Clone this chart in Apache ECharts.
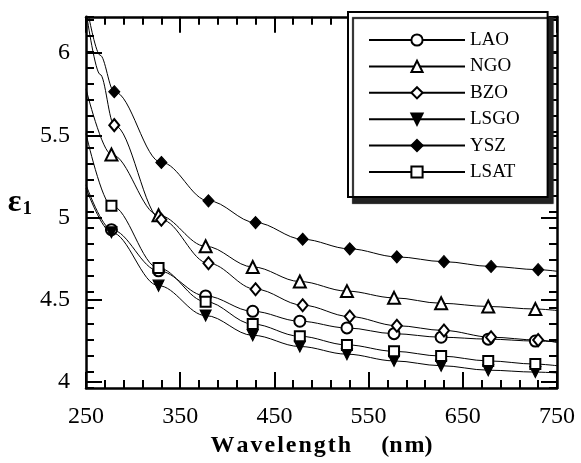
<!DOCTYPE html>
<html lang="en">
<head>
    <meta charset="utf-8">
    <title>Dielectric function of substrates</title>
    <script src="https://cdn.jsdelivr.net/npm/echarts@6/dist/echarts.min.js"></script>
    <style>* {
        margin: 0;
        padding: 0;
    }
    #chart-container {
        width: 581px;
        height: 463px;
        background: #fff;
    }</style>
</head>
<body>
    <div id="chart-container"></div>
    <script>
      // measured points (markers)
      var waveA = [277, 327, 377, 427, 477, 527, 577, 627, 677, 727];
      var waveB = [280, 330, 380, 430, 480, 530, 580, 630, 680, 730];
      var laoEps  = [4.89, 4.633, 4.476, 4.38, 4.318, 4.276, 4.24, 4.218, 4.206, 4.194];
      var ngoEps  = [5.36, 4.98, 4.786, 4.657, 4.566, 4.506, 4.464, 4.43, 4.41, 4.394];
      var bzoEps  = [5.543, 4.952, 4.68, 4.518, 4.418, 4.347, 4.29, 4.26, 4.218, 4.2];
      var lsgoEps = [4.873, 4.54, 4.353, 4.23, 4.16, 4.112, 4.07, 4.04, 4.012, 4.0];
      var yszEps  = [5.752, 5.31, 5.07, 4.934, 4.83, 4.77, 4.72, 4.69, 4.66, 4.64];
      var lsatEps = [5.04, 4.65, 4.44, 4.30, 4.224, 4.17, 4.13, 4.10, 4.07, 4.05];

      // fitted curve
      var laoFit  = [[250, 5.17], [750, 4.19]];
      var ngoFit  = [[250, 5.77], [750, 4.385]];
      var bzoFit  = [[251, 6.22], [265, 5.86], [750, 4.185]];
      var lsgoFit = [[250, 5.15], [750, 3.995]];
      var yszFit  = [[253, 6.22], [265, 5.98], [750, 4.63]];
      var lsatFit = [[250, 5.49], [750, 4.04]];

      var serif = 'Liberation Serif';
      var hs = '\u200A';   // hair space, the axis title is letter-spaced

      function buildData(waves, eps, fit) {
          var pts = waves.map(function (w, i) { return { value: [w, eps[i]] }; });
          fit.forEach(function (p) { pts.push({ value: p, symbol: 'none' }); });
          pts.sort(function (a, b) { return a.value[0] - b.value[0]; });
          return pts;
      }

      function makeSeries(name, waves, eps, fit, symbol, size) {
          return {
              name: name,
              type: 'line',
              xAxisIndex: 0,
              yAxisIndex: 0,
              data: buildData(waves, eps, fit),
              smooth: 0.35,
              smoothMonotone: 'x',
              symbol: symbol,
              symbolSize: size,
              color: '#000',
              lineStyle: { color: '#000', width: 1 },
              itemStyle: { color: '#000', borderColor: '#000', borderWidth: 1.1 },
              clip: true
          };
      }

      var tickStyle = { color: '#000', width: 2 };
      var frameLine = { show: true, lineStyle: { color: '#000', width: 2.5 } };

      var myChart = echarts.init(document.getElementById('chart-container'));
      myChart.setOption({
          animation: false,
          backgroundColor: '#fff',
          grid: [
              { left: 86, right: 24, top: 16.8, bottom: 64.5 },
              // overlay grid used only for the long ticks at every 0.5
              { left: 86, right: 24, top: 53, bottom: 81 }
          ],
          legend: {
              orient: 'vertical',
              left: 348,
              top: 12,
              padding: [18, 28, 15, 20],
              itemWidth: 96,
              itemHeight: 14,
              itemGap: 6.4,
              backgroundColor: '#fff',
              borderColor: '#000',
              borderWidth: 2,
              shadowColor: '#222',
              shadowBlur: 1,
              shadowOffsetX: 5,
              shadowOffsetY: 6,
              textStyle: { fontFamily: serif, fontSize: 19, color: '#000', lineHeight: 20 },
              data: ['LAO', 'NGO', 'BZO', 'LSGO', 'YSZ', 'LSAT']
          },
          xAxis: [
              {
                  gridIndex: 0, type: 'value', position: 'bottom',
                  min: 250, max: 750, interval: 100,
                  axisLine: frameLine,
                  axisTick: { inside: true, length: 16, lineStyle: tickStyle },
                  minorTick: { show: true, splitNumber: 5, length: 8, lineStyle: tickStyle },
                  splitLine: { show: false },
                  axisLabel: { fontFamily: serif, fontSize: 24, color: '#000', margin: 17 },
                  name: 'Wavelength'.split('').join(hs) + '     (' + 'nm'.split('').join(hs) + ')',
                  nameLocation: 'middle',
                  nameGap: 39,
                  nameTextStyle: { fontFamily: serif, fontWeight: 'bold', fontSize: 24, color: '#000' }
              },
              {
                  gridIndex: 0, type: 'value', position: 'top',
                  min: 250, max: 750, interval: 100,
                  axisLine: frameLine,
                  axisTick: { inside: true, length: 16, lineStyle: tickStyle },
                  minorTick: { show: true, splitNumber: 5, length: 8, lineStyle: tickStyle },
                  splitLine: { show: false },
                  axisLabel: { show: false }
              },
              { gridIndex: 1, type: 'value', min: 250, max: 750, show: false }
          ],
          yAxis: [
              {
                  gridIndex: 0, type: 'value', position: 'left',
                  min: 3.9, max: 6.22, interval: 0.1,
                  axisLine: frameLine,
                  axisTick: { inside: true, length: 8, lineStyle: tickStyle },
                  splitLine: { show: false },
                  axisLabel: { show: false },
                  name: '{e|ε}{s|1}',
                  nameLocation: 'middle',
                  nameRotate: 0,
                  nameGap: 54,
                  nameTextStyle: {
                      rich: {
                          e: { fontFamily: serif, fontWeight: 'bold', fontSize: 32, color: '#000' },
                          s: { fontFamily: serif, fontWeight: 'bold', fontSize: 19, color: '#000', padding: [14, 0, 0, 1] }
                      }
                  }
              },
              {
                  gridIndex: 0, type: 'value', position: 'right',
                  min: 3.9, max: 6.22, interval: 0.1,
                  axisLine: frameLine,
                  axisTick: { inside: true, length: 8, lineStyle: tickStyle },
                  splitLine: { show: false },
                  axisLabel: { show: false }
              },
              {
                  gridIndex: 1, type: 'value', position: 'left',
                  min: 4, max: 6, interval: 0.5,
                  axisLine: { show: false },
                  axisTick: { inside: true, length: 16, lineStyle: tickStyle },
                  splitLine: { show: false },
                  axisLabel: { fontFamily: serif, fontSize: 24, color: '#000', margin: 16 }
              },
              {
                  gridIndex: 1, type: 'value', position: 'right',
                  min: 4, max: 6, interval: 0.5,
                  axisLine: { show: false },
                  axisTick: { inside: true, length: 16, lineStyle: tickStyle },
                  splitLine: { show: false },
                  axisLabel: { show: false }
              }
          ],
          series: [
              makeSeries('LAO', waveA, laoEps, laoFit, 'emptyCircle', 11),
              makeSeries('NGO', waveA, ngoEps, ngoFit, 'emptyTriangle', 12),
              makeSeries('BZO', waveB, bzoEps, bzoFit, 'emptyDiamond', [10, 12]),
              makeSeries('LSGO', waveA, lsgoEps, lsgoFit, 'path://M0,0 L10,0 L5,10 Z', [11, 11]),
              makeSeries('YSZ', waveB, yszEps, yszFit, 'diamond', [11, 12]),
              makeSeries('LSAT', waveA, lsatEps, lsatFit, 'emptyRect', 10)
          ]
      });
    </script>
</body>
</html>
